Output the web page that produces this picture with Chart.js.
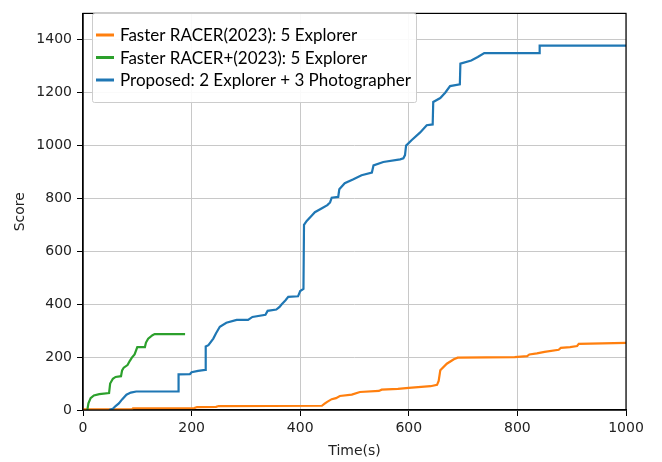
<!DOCTYPE html>
<html>
<head>
<meta charset="utf-8">
<script src="https://cdn.jsdelivr.net/npm/chart.js@4"></script>
<style>
  html, body { margin: 0; padding: 0; background: #fff; }
  #wrap { width: 662px; height: 462px; }
</style>
</head>
<body>
<div id="wrap"><canvas id="chart" width="662" height="462"></canvas></div>
<script>
// values
const seriesNames = [
    'Faster RACER(2023): 5 Explorer',
    'Faster RACER+(2023): 5 Explorer',
    'Proposed: 2 Explorer + 3 Photographer'
];

const racerTime  = [0, 90, 92, 205, 210, 245, 250, 440, 445, 449, 458, 466, 473, 495, 510, 545, 550, 580, 600, 640, 652, 655, 658, 670, 683, 690, 795, 818, 822, 836, 850, 876, 880, 897, 910, 913, 1000];
const racerScore = [2, 2, 6, 7, 11, 12, 15, 16, 24, 30, 41, 45, 53, 58, 68, 72, 77, 80, 84, 90, 95, 110, 150, 175, 192, 198, 200, 204, 210, 214, 220, 228, 235, 238, 242, 250, 254];

const racerPlusTime  = [8, 10, 14, 20, 30, 48, 50, 55, 60, 70, 72, 75, 82, 86, 90, 95, 100, 114, 116, 120, 128, 132, 188];
const racerPlusScore = [0, 25, 45, 55, 60, 64, 100, 118, 125, 128, 150, 160, 170, 185, 198, 210, 238, 238, 255, 270, 283, 287, 287];

const proposedTime  = [48, 55, 60, 66, 72, 80, 88, 98, 175, 176, 197, 200, 212, 225, 226, 231, 240, 245, 252, 264, 283, 304, 312, 336, 340, 356, 362, 366, 373, 378, 396, 400, 406, 407, 412, 421, 427, 440, 450, 455, 458, 470, 472, 482, 498, 513, 532, 535, 553, 584, 590, 593, 595, 605, 621, 633, 644, 645, 658, 667, 676, 694, 695, 715, 727, 739, 840, 841, 1000];
const proposedScore = [0, 5, 15, 25, 40, 58, 66, 70, 70, 135, 136, 143, 148, 152, 240, 245, 270, 290, 315, 330, 341, 341, 352, 360, 375, 380, 390, 400, 415, 428, 430, 450, 458, 700, 715, 735, 748, 763, 775, 785, 803, 806, 835, 858, 873, 888, 898, 925, 938, 948, 952, 964, 1000, 1020, 1050, 1077, 1080, 1165, 1180, 1200, 1225, 1232, 1310, 1322, 1335, 1350, 1350, 1378, 1378];

const xTicks = [0, 200, 400, 600, 800, 1000];
const yTicks = [0, 200, 400, 600, 800, 1000, 1200, 1400];

const seriesColors = ['#ff7f0e', '#2ca02c', '#1f77b4'];

function toPoints(xs, ys) {
    return xs.map((x, i) => ({ x: x, y: ys[i] }));
}

// black box round the plot area, like matplotlib spines
const framePlugin = {
    id: 'frame',
    afterDatasetsDraw(chart) {
        const { ctx, chartArea: a } = chart;
        ctx.save();
        ctx.strokeStyle = '#000';
        ctx.lineWidth = 1.2;
        ctx.strokeRect(a.left, a.top, a.right - a.left, a.bottom - a.top);
        ctx.restore();
    }
};

// legend drawn inside the plot, upper left
const insideLegend = {
    id: 'insideLegend',
    afterDraw(chart) {
        const ctx = chart.ctx;
        const box = { x: 92, y: 13, w: 324, h: 89 };
        ctx.save();
        ctx.fillStyle = 'rgba(255,255,255,0.9)';
        ctx.strokeStyle = '#cccccc';
        ctx.lineWidth = 1;
        ctx.beginPath();
        ctx.roundRect(box.x + 0.5, box.y + 0.5, box.w, box.h, 2);
        ctx.fill();
        ctx.stroke();

        ctx.font = '17px Lato, "Open Sans", sans-serif';
        ctx.textBaseline = 'middle';
        ctx.textAlign = 'left';
        chart.data.datasets.forEach((ds, i) => {
            const y = 35 + i * 22.5;
            ctx.strokeStyle = ds.borderColor;
            ctx.lineWidth = 3;
            ctx.beginPath();
            ctx.moveTo(96, y);
            ctx.lineTo(114, y);
            ctx.stroke();
            ctx.fillStyle = '#000';
            ctx.fillText(ds.label, 120, y + 1);
        });
        ctx.restore();
    }
};

const tickFont = { family: '"DejaVu Sans", sans-serif', size: 14 };
const plainNumber = v => String(v);

new Chart(document.getElementById('chart').getContext('2d'), {
    type: 'line',
    data: {
        datasets: [
            { label: seriesNames[0], data: toPoints(racerTime, racerScore), borderColor: seriesColors[0], order: 3 },
            { label: seriesNames[1], data: toPoints(racerPlusTime, racerPlusScore), borderColor: seriesColors[1], order: 2 },
            { label: seriesNames[2], data: toPoints(proposedTime, proposedScore), borderColor: seriesColors[2], order: 1 }
        ].map(ds => Object.assign(ds, {
            borderWidth: 2.2,
            pointRadius: 0,
            fill: false,
            tension: 0
        }))
    },
    options: {
        responsive: false,
        animation: false,
        devicePixelRatio: 1,
        layout: { padding: { left: 0, top: 4, right: 36, bottom: 0 } },
        plugins: {
            legend: { display: false },
            tooltip: { enabled: false }
        },
        scales: {
            x: {
                type: 'linear',
                min: 0,
                max: 1000,
                afterFit: s => { s.height = 52; },
                afterBuildTicks: s => { s.ticks = xTicks.map(v => ({ value: v })); },
                grid: { color: '#c8c8c8', lineWidth: 1, tickColor: '#000', tickLength: 6 },
                border: { color: '#000', width: 1.2 },
                ticks: { color: '#222', font: tickFont, padding: 4, maxRotation: 0, callback: plainNumber },
                title: { display: true, text: 'Time(s)', color: '#222', font: tickFont, padding: { top: 0, bottom: 2 } }
            },
            y: {
                type: 'linear',
                min: 0,
                max: 1500,
                afterFit: s => { s.width = 83; },
                afterBuildTicks: s => { s.ticks = yTicks.map(v => ({ value: v })); },
                grid: { color: '#c8c8c8', lineWidth: 1, tickColor: '#000', tickLength: 6 },
                border: { color: '#000', width: 1.2 },
                ticks: { color: '#222', font: tickFont, padding: 5, callback: plainNumber },
                title: { display: true, text: 'Score', color: '#222', font: tickFont, padding: { top: 12, bottom: 0 } }
            }
        }
    },
    plugins: [framePlugin, insideLegend]
});
</script>
</body>
</html>
